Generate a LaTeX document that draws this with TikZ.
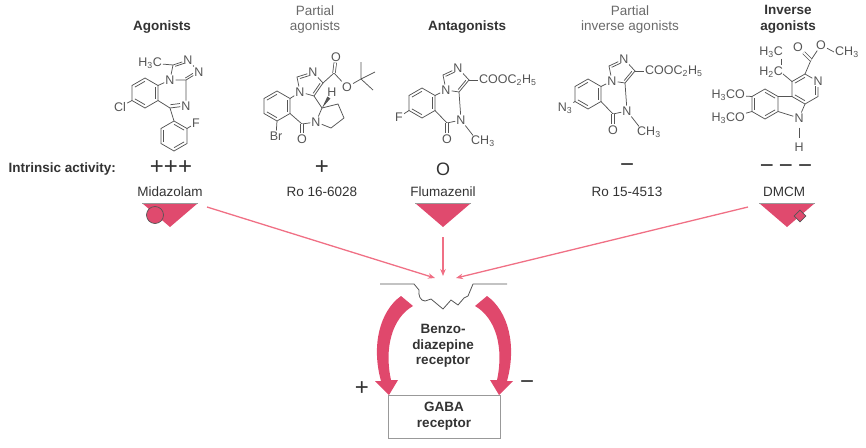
\documentclass[tikz,border=0pt]{standalone}
\usepackage{fontspec}
\setmainfont{Liberation Sans}
\usetikzlibrary{calc,arrows.meta,shapes.geometric}
\definecolor{txtdark}{HTML}{333333}
\definecolor{txtlight}{HTML}{6A6A6A}
\definecolor{bondgray}{HTML}{555555}
\definecolor{redarc}{HTML}{E0486C}
\definecolor{pinkline}{HTML}{F07085}
\definecolor{trifill}{HTML}{E04A6E}
\newcommand\hexring[3]{%
  \coordinate (#1-c) at (#2,#3);
  \coordinate (#1-1) at (#2,#3-15);
  \coordinate (#1-2) at (#2+13,#3-7.5);
  \coordinate (#1-3) at (#2+13,#3+7.5);
  \coordinate (#1-4) at (#2,#3+15);
  \coordinate (#1-5) at (#2-13,#3+7.5);
  \coordinate (#1-6) at (#2-13,#3-7.5);}
\newcommand\ringbonds[1]{\draw[bond] (#1-1)--(#1-2)--(#1-3)--(#1-4)--(#1-5)--(#1-6)--cycle;}
\newcommand\innerbond[4][]{\draw[bond,#1] ($(#2)!0.22!(#4)$) -- ($(#3)!0.22!(#4)$);}
\newcommand\flumalike[2]{%
  \hexring{#1}{422}{103}
  \ringbonds{#1}
  \innerbond{#1-6}{#1-1}{#1-c}\innerbond{#1-2}{#1-3}{#1-c}\innerbond{#1-4}{#1-5}{#1-c}
  \node[atom] (#1-x) at (399,117) {#2};
  \draw[bond] (#1-5) -- (#1-x);
  \node[atom] (#1-n1) at (446,90) {N};
  \coordinate (#1-i1) at (443,75);
  \node[atom] (#1-n2) at (458,68) {N};
  \coordinate (#1-i3) at (469,80);
  \coordinate (#1-i3a) at (459,92);
  \coordinate (#1-ic) at (455,81);
  \draw[bond] (#1-2) -- (#1-n1) -- (#1-i1) -- (#1-n2) -- (#1-i3) -- (#1-i3a) -- (#1-n1);
  \innerbond[shorten >=3pt]{#1-i1}{#1-n2}{#1-ic}
  \innerbond{#1-i3}{#1-i3a}{#1-ic}
  \node[atom,anchor=west] (#1-est) at (478,80) {COOC\textsubscript{2}H\textsubscript{5}};
  \draw[bond] (#1-i3) -- (#1-est.west);
  \coordinate (#1-c4) at (460,106);
  \node[atom] (#1-n5) at (461,120) {N};
  \coordinate (#1-c6) at (447,123);
  \draw[bond] (#1-i3a) -- (#1-c4) -- (#1-n5) -- (#1-c6) -- (#1-3);
  \node[atom] (#1-o) at (447,139) {O};
  \draw[dbond] (#1-c6) -- (#1-o);
  \node[atom,anchor=west] (#1-me) at (470,141) {CH\textsubscript{3}};
  \draw[bond] (#1-n5) -- ($(#1-me.north west)+(3,1)$);}
\begin{document}
\begin{tikzpicture}[x=1pt,y=-1pt,
  bond/.style={draw=bondgray,line width=0.75pt},
  dbond/.style={bond,double=white,double distance=1.8pt},
  atom/.style={font=\fontsize{12.5}{12.5}\selectfont,text=bondgray,inner sep=1pt},
  hb/.style={font=\fontsize{13.5}{15.5}\selectfont\bfseries,text=txtdark,align=center},
  hl/.style={font=\fontsize{13.5}{15.5}\selectfont,text=txtlight,align=center},
  nm/.style={font=\fontsize{13.5}{15.5}\selectfont,text=txtdark},
  act/.style={font=\fontsize{24}{24}\selectfont,text=txtdark,inner sep=0pt},
  tri/.style={fill=trifill},
  triedge/.style={draw=gray!80,line width=0.6pt},
  conn/.style={draw=pinkline,line width=1.3pt,-{Stealth[length=7pt,width=5.5pt]}},
  bigarrow/.style={fill=redarc},
  membrane/.style={draw=bondgray,line width=0.8pt,line join=round}]
\useasboundingbox (0,0) rectangle (866,447);

% ---------- headings ----------
\node[hb] (h1) at (162,27) {Agonists};
\node[hl] (h2) at (315,19.5) {Partial\\agonists};
\node[hb] (h3) at (467,27) {Antagonists};
\node[hl] (h4) at (630,19.5) {Partial\\inverse agonists};
\node[hb] (h5) at (788,19.5) {Inverse\\agonists};

% ---------- Midazolam ----------
\hexring{ma}{145}{93}
\ringbonds{ma}
\innerbond{ma-6}{ma-1}{ma-c}\innerbond{ma-2}{ma-3}{ma-c}\innerbond{ma-4}{ma-5}{ma-c}
\node[atom] (ma-cl) at (120,107) {Cl};
\draw[bond] (ma-5) -- (ma-cl);
\node[atom] (ma-n1) at (170,80) {N};
\coordinate (ma-t1) at (173,65);
\node[atom] (ma-n2) at (188,60) {N};
\node[atom] (ma-n3) at (199,72) {N};
\coordinate (ma-t3a) at (186,80);
\coordinate (ma-tc) at (183,71);
\draw[bond] (ma-2) -- (ma-n1) -- (ma-t1) -- (ma-n2) -- (ma-n3) -- (ma-t3a) -- (ma-n1);
\innerbond[shorten >=3pt]{ma-t1}{ma-n2}{ma-tc}
\innerbond[shorten <=3pt]{ma-n3}{ma-t3a}{ma-tc}
\node[atom,anchor=east] (ma-me) at (163,63) {H\textsubscript{3}C};
\draw[bond] (ma-t1) -- (ma-me);
\coordinate (ma-c4) at (186,93);
\node[atom] (ma-n4) at (186,106) {N};
\coordinate (ma-c5) at (170,108);
\coordinate (ma-dc) at (172,93);
\draw[bond] (ma-t3a) -- (ma-c4) -- (ma-n4) -- (ma-c5) -- (ma-3);
\innerbond[shorten <=3pt]{ma-n4}{ma-c5}{ma-dc}
\hexring{mb}{174}{136}
\ringbonds{mb}
\innerbond{mb-1}{mb-2}{mb-c}\innerbond{mb-3}{mb-4}{mb-c}\innerbond{mb-5}{mb-6}{mb-c}
\draw[bond] (ma-c5) -- (mb-1);
\node[atom] (ma-f) at (196,123) {F};
\draw[bond] (mb-2) -- (ma-f);

% ---------- Ro 16-6028 ----------
\hexring{rb}{277}{106}
\ringbonds{rb}
\innerbond{rb-6}{rb-1}{rb-c}\innerbond{rb-2}{rb-3}{rb-c}\innerbond{rb-4}{rb-5}{rb-c}
\node[atom] (rb-br) at (276,136) {Br};
\draw[bond] (rb-4) -- (rb-br);
\node[atom] (rb-n1) at (300,92) {N};
\coordinate (rb-i1) at (297,77);
\node[atom] (rb-n2) at (313,72) {N};
\coordinate (rb-i3) at (323,83);
\coordinate (rb-i3a) at (314,96);
\coordinate (rb-ic) at (310,84);
\draw[bond] (rb-2) -- (rb-n1) -- (rb-i1) -- (rb-n2) -- (rb-i3) -- (rb-i3a) -- (rb-n1);
\innerbond[shorten >=3pt]{rb-i1}{rb-n2}{rb-ic}
\innerbond{rb-i3}{rb-i3a}{rb-ic}
\coordinate (rb-cst) at (322,108);
\node[atom] (rb-np) at (316,122) {N};
\coordinate (rb-cc) at (302,124);
\draw[bond] (rb-i3a) -- (rb-cst) -- (rb-np) -- (rb-cc) -- (rb-3);
\node[atom] (rb-o) at (302,139) {O};
\draw[dbond] (rb-cc) -- (rb-o);
\coordinate (rb-p1) at (338,104);
\coordinate (rb-p2) at (344,118);
\coordinate (rb-p3) at (331,128);
\draw[bond] (rb-cst) -- (rb-p1) -- (rb-p2) -- (rb-p3) -- (rb-np);
\node[atom] (rb-h) at (332,92) {H};
\coordinate (rb-w1) at (330.4,98.5);
\coordinate (rb-w2) at (327.4,96.5);
\fill[bondgray] (rb-cst) -- (rb-w1) -- (rb-w2) -- cycle;
\coordinate (rb-ce) at (334,73);
\node[atom] (rb-o1) at (336,57) {O};
\node[atom] (rb-o2) at (347,87) {O};
\draw[bond] (rb-i3) -- (rb-ce) -- (rb-o2);
\draw[dbond] (rb-ce) -- (rb-o1);
\coordinate (rb-q) at (361,79);
\coordinate (rb-m1) at (361,62);
\coordinate (rb-m2) at (375,72);
\coordinate (rb-m3) at (373,90);
\draw[bond] (rb-o2) -- (rb-q) -- (rb-m1) (rb-q) -- (rb-m2) (rb-q) -- (rb-m3);

% ---------- Flumazenil ----------
\flumalike{fl}{F}

% ---------- Ro 15-4513 ----------
\begin{scope}[shift={(166,-9)}]
\flumalike{rs}{N\textsubscript{3}}
\end{scope}

% ---------- DMCM ----------
\hexring{dp}{805}{89}
\node[atom] (dm-n2) at (dp-2) {N};
\draw[bond] (dp-1) -- (dm-n2) -- (dp-3) -- (dp-4) -- (dp-5) -- (dp-6) -- (dp-1);
\innerbond{dp-6}{dp-1}{dp-c}
\innerbond[shorten <=3pt]{dm-n2}{dp-3}{dp-c}
\innerbond{dp-4}{dp-5}{dp-c}
\hexring{db}{765}{104}
\ringbonds{db}
\innerbond{db-1}{db-2}{db-c}\innerbond{db-3}{db-4}{db-c}\innerbond{db-5}{db-6}{db-c}
\node[atom] (dm-n9) at (799,118) {N};
\draw[bond] (db-2) -- (dp-5) (dp-4) -- (dm-n9) -- (db-3);
\node[atom] (dm-h) at (799,147) {H};
\draw[bond,shorten <=4pt,shorten >=4pt] (dm-n9) -- (dm-h);
\node[atom,anchor=east] (dm-om1) at (746,95) {H\textsubscript{3}CO};
\node[atom,anchor=east] (dm-om2) at (746,118) {H\textsubscript{3}CO};
\draw[bond] (db-6) -- (dm-om1) (db-5) -- (dm-om2);
\node[atom,anchor=east] (dm-et2) at (784,72) {H\textsubscript{2}C};
\node[atom,anchor=east] (dm-et1) at (784,52) {H\textsubscript{3}C};
\draw[bond] (dp-6) -- ($(dm-et2.east)+(-1,2)$);
\draw[bond] ($(dm-et1.south east)+(-3,0)$) -- ($(dm-et2.north east)+(-3,0)$);
\coordinate (dm-ce) at (811,60);
\node[atom] (dm-o1) at (798,47) {O};
\node[atom] (dm-o2) at (821,45) {O};
\node[atom,anchor=west] (dm-me) at (834,52) {CH\textsubscript{3}};
\draw[bond] (dp-1) -- (dm-ce) -- (dm-o2) -- (dm-me.west);
\draw[dbond] (dm-ce) -- (dm-o1);

% ---------- intrinsic activity row ----------
\node[hb,anchor=west] (ia) at (5,169) {Intrinsic activity:};
\node[act] (a1) at (171,168) {+\hspace{0pt}+\hspace{0pt}+};
\node[act] (a2) at (322,168) {+};
\node[act,font=\fontsize{18}{18}\selectfont] (a3) at (443,169) {O};
\node[act] (a4) at (627,168) {−};
\node[act] (a5) at (786,169) {−\hspace{5pt}−\hspace{5pt}−};

\node[nm] (n1) at (170,192) {Midazolam};
\node[nm] (n2) at (322,192) {Ro 16-6028};
\node[nm] (n3) at (443,192) {Flumazenil};
\node[nm] (n4) at (627,192) {Ro 15-4513};
\node[nm] (n5) at (784,192) {DMCM};

% ---------- ligand triangles ----------
\coordinate (t1a) at (142,203); \coordinate (t1b) at (198,203); \coordinate (t1c) at (170,227);
\fill[tri] (t1a) -- (t1b) -- (t1c) -- cycle;
\draw[triedge] (t1a) -- (t1b);
\node[circle,fill=trifill,draw=bondgray,line width=0.7pt,minimum size=17pt,inner sep=0pt] (lig1) at (155,215) {};
\coordinate (t3a) at (415,203); \coordinate (t3b) at (471,203); \coordinate (t3c) at (443,227);
\fill[tri] (t3a) -- (t3b) -- (t3c) -- cycle;
\draw[triedge] (t3a) -- (t3b);
\coordinate (t5a) at (759,203); \coordinate (t5b) at (815,203); \coordinate (t5c) at (787,227);
\fill[tri] (t5a) -- (t5b) -- (t5c) -- cycle;
\draw[triedge] (t5a) -- (t5b);
\node[diamond,fill=trifill,draw=bondgray,line width=0.7pt,minimum size=12pt,inner sep=0pt] (lig5) at (800,216) {};

% ---------- connectors ----------
\coordinate (s1) at (207,207);
\coordinate (s3) at (443,237);
\coordinate (s5) at (748,207);
\coordinate (e1) at (435,278);
\coordinate (e3) at (443,276);
\coordinate (e5) at (456,278);
\draw[conn] (s1) -- (e1);
\draw[conn] (s3) -- (e3);
\draw[conn] (s5) -- (e5);

% ---------- receptor ----------
\draw[membrane] (380,284) -- (414,284) -- (419,290) to[out=-100,in=180] (425,301) -- (431,299)
  -- (443,309) -- (451,300) -- (458,305) -- (464,298) -- (468,296) -- (473,284) -- (507,284);

\fill[bigarrow] (401,296) .. controls (380,311) and (371,345) .. (381,381) -- (375,381) -- (389,395)
  -- (398,380) -- (391,380) .. controls (384,348) and (392,318) .. (413,306) -- cycle;
\fill[bigarrow] (487,296) .. controls (508,311) and (517,345) .. (507,381) -- (513,381) -- (499,395)
  -- (490,380) -- (497,380) .. controls (504,348) and (496,318) .. (475,306) -- cycle;

\node[hb] (bz) at (443,346) {Benzo-\\diazepine\\receptor};
\node[draw=gray!80,line width=0.8pt,minimum width=112pt,minimum height=43pt,inner sep=0pt,
  fill=white] (gaba) at (444,416.5) {};
\node[hb] (gabat) at (444,416) {GABA\\receptor};
\node[act] (plus) at (362,389) {+};
\node[act] (minus) at (527,385) {−};
\end{tikzpicture}
\end{document}
